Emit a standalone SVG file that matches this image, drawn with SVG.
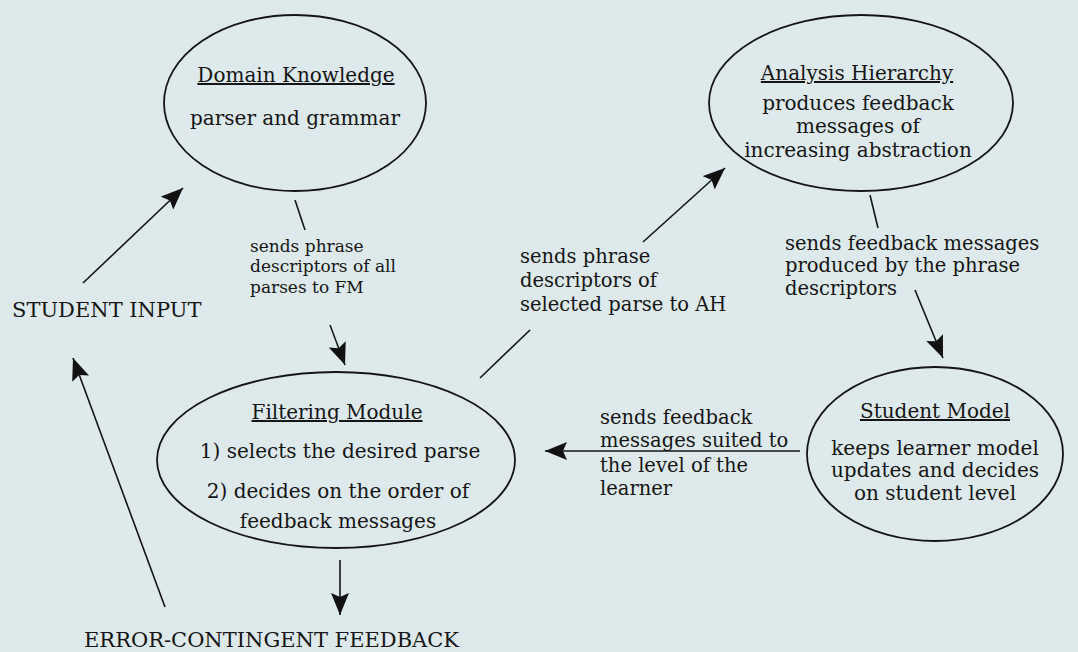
<svg xmlns="http://www.w3.org/2000/svg" width="1078" height="652" viewBox="0 0 1078 652">
<style>
.bg{fill:#dde9eb}
.node{fill:none;stroke:#151515;stroke-width:1.8}
.t{font-family:"DejaVu Serif","Liberation Serif",serif;fill:#151515}
.title{font-size:20px;text-decoration:underline;text-anchor:middle}
.body{font-size:20px;text-anchor:middle}
.lab{font-size:19.5px}
.lab2{font-size:17px}
.cap{font-size:21px}
.conn line{stroke:#151515;stroke-width:1.6;fill:none}
</style>
<defs>
<marker id="ah" markerUnits="userSpaceOnUse" markerWidth="24" markerHeight="18" refX="22" refY="9" orient="auto">
<path d="M0,0 L22,9 L0,18 L4,9 z" fill="#111"/>
</marker>
</defs>
<rect class="bg" x="0" y="0" width="1078" height="652"/>

<g id="domain-knowledge">
<ellipse class="node" cx="295" cy="103" rx="131" ry="88"/>
<text class="t title" x="296" y="82">Domain Knowledge</text>
<text class="t body" x="295" y="125">parser and grammar</text>
</g>

<g id="analysis-hierarchy">
<ellipse class="node" cx="861" cy="103" rx="152" ry="88"/>
<text class="t title" x="857" y="80">Analysis Hierarchy</text>
<text class="t body" x="858" y="110">produces feedback</text>
<text class="t body" x="858" y="133">messages of</text>
<text class="t body" x="858" y="157">increasing abstraction</text>
</g>

<g id="filtering-module">
<ellipse class="node" cx="336" cy="460" rx="179" ry="88"/>
<text class="t title" x="337" y="419">Filtering Module</text>
<text class="t body" x="340" y="458">1) selects the desired parse</text>
<text class="t body" x="338" y="498">2) decides on the order of</text>
<text class="t body" x="338" y="528">feedback messages</text>
</g>

<g id="student-model">
<ellipse class="node" cx="935" cy="454" rx="128" ry="87"/>
<text class="t title" x="935" y="418">Student Model</text>
<text class="t body" x="935" y="455">keeps learner model</text>
<text class="t body" x="935" y="477">updates and decides</text>
<text class="t body" x="935" y="500">on student level</text>
</g>

<g id="student-input">
<text class="t cap" x="12" y="317">STUDENT INPUT</text>
</g>

<g id="error-feedback">
<text class="t cap" x="84" y="647">ERROR-CONTINGENT FEEDBACK</text>
</g>

<g id="connectors" class="conn">
<line x1="83" y1="283" x2="183" y2="188" marker-end="url(#ah)"/>
<line x1="295" y1="200" x2="305" y2="230"/>
<line x1="330" y1="325" x2="345" y2="365" marker-end="url(#ah)"/>
<line x1="480" y1="378" x2="530" y2="330"/>
<line x1="643" y1="242" x2="725" y2="168" marker-end="url(#ah)"/>
<line x1="870" y1="195" x2="878" y2="228"/>
<line x1="915" y1="290" x2="943" y2="358" marker-end="url(#ah)"/>
<line x1="800" y1="451" x2="545" y2="451" marker-end="url(#ah)"/>
<line x1="340" y1="560" x2="340" y2="615" marker-end="url(#ah)"/>
<line x1="165" y1="607" x2="73" y2="358" marker-end="url(#ah)"/>
</g>

<g id="labels">
<text class="t lab2" x="250" y="252">sends phrase</text>
<text class="t lab2" x="250" y="272">descriptors of all</text>
<text class="t lab2" x="250" y="293">parses to FM</text>
<text class="t lab" x="520" y="263">sends phrase</text>
<text class="t lab" x="520" y="287">descriptors of</text>
<text class="t lab" x="520" y="311">selected parse to AH</text>
<text class="t lab" x="785" y="250">sends feedback messages</text>
<text class="t lab" x="785" y="272">produced by the phrase</text>
<text class="t lab" x="785" y="295">descriptors</text>
<text class="t lab" x="600" y="424">sends feedback</text>
<text class="t lab" x="600" y="447">messages suited to</text>
<text class="t lab" x="600" y="472">the level of the</text>
<text class="t lab" x="600" y="495">learner</text>
</g>
</svg>
